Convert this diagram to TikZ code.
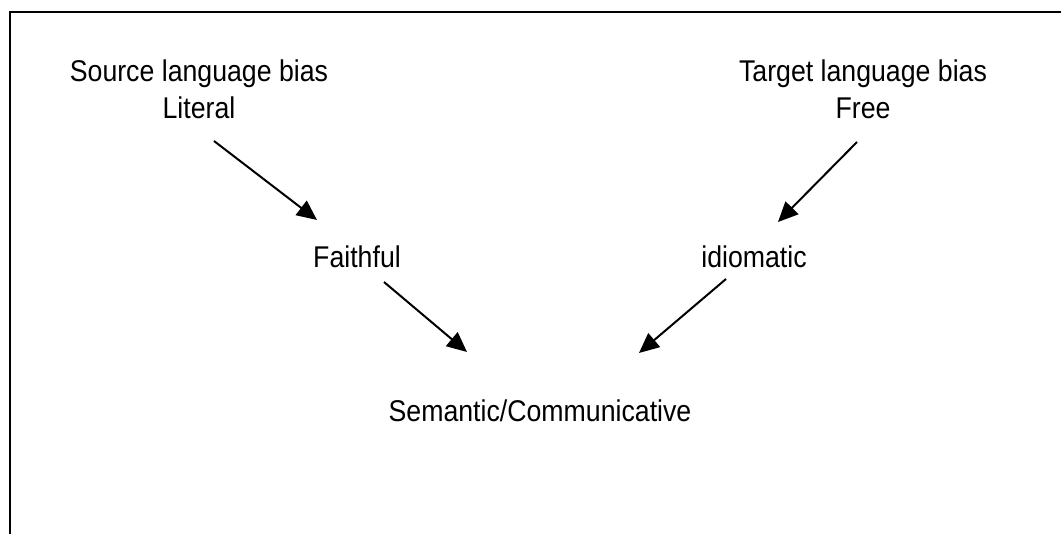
\documentclass[tikz,border=0pt]{standalone}
\usepackage{fontspec}
\setmainfont{Liberation Sans}[FakeStretch=0.89]
\usetikzlibrary{arrows.meta,calc}
\tikzset{
  lbl/.style={inner sep=0pt, anchor=base, align=center, font=\fontsize{30bp}{37bp}\selectfont},
  arr/.style={->, line width=2bp},
}
\begin{document}
\begin{tikzpicture}[>={Triangle[length=20bp,width=18bp]}]
  \useasboundingbox (0bp,0bp) rectangle (1061bp,534bp);
  % Frame: only its top and left sides are in view
  \draw [line width=2bp] (10bp,-2bp) -- (10bp,522bp) -- (1063bp,522bp);
%%
  % Node: Source
  \node [lbl] (src) at (199bp,415bp) {Source language bias\\Literal};
  % Node: Target
  \node [lbl] (tgt) at (863bp,415bp) {Target language bias\\Free};
  % Node: Faithful
  \node [lbl] (faith) at (357bp,266bp) {Faithful};
  % Node: idiomatic
  \node [lbl] (idio) at (754bp,266bp) {idiomatic};
  % Node: Semantic
  \node [lbl] (sem) at (540bp,112bp) {Semantic/Communicative};
%%
  % Edge: Source -> Faithful
  \draw [arr] ($(src.base)+(15bp,-22bp)$) -- ($(faith.base)+(-40bp,48bp)$);
  % Edge: Target -> idiomatic
  \draw [arr] ($(tgt.base)+(-6bp,-23bp)$) -- ($(idio.base)+(24bp,46bp)$);
  % Edge: Faithful -> Semantic
  \draw [arr] ($(faith.base)+(27bp,-14bp)$) -- ($(sem.base)+(-73bp,70bp)$);
  % Edge: idiomatic -> Semantic
  \draw [arr] ($(idio.base)+(-28bp,-11bp)$) -- ($(sem.base)+(99bp,69bp)$);
%
\end{tikzpicture}
\end{document}
